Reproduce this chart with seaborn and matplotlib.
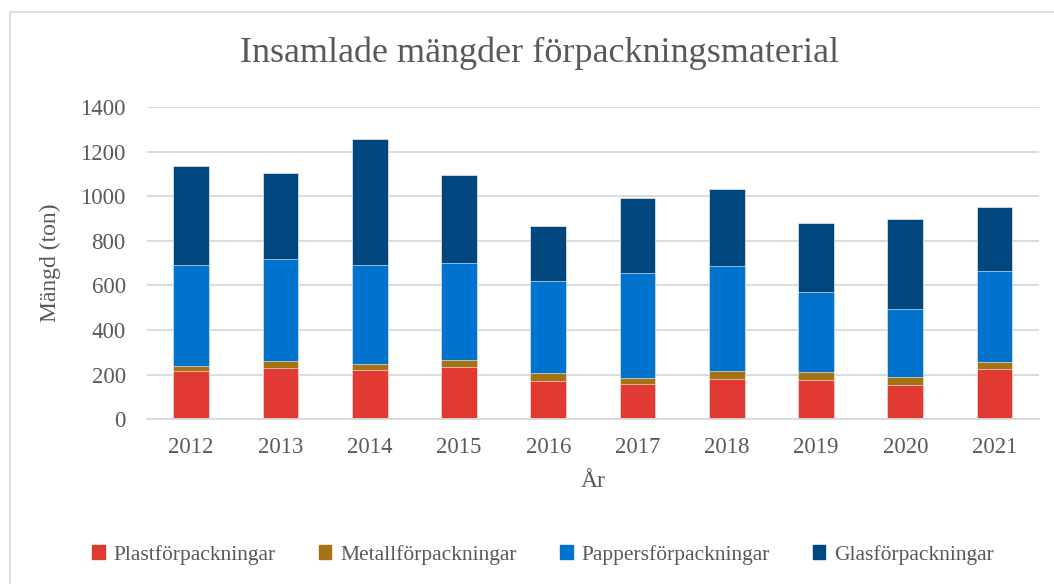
import numpy as np
import pandas as pd
import matplotlib
matplotlib.use("Agg")
import matplotlib.pyplot as plt
import matplotlib.patches as mpatches
import seaborn as sns

# data (ton)
years = ["2012", "2013", "2014", "2015", "2016", "2017", "2018", "2019", "2020", "2021"]
plast = [215, 228, 221, 233, 170, 157, 179, 177, 155, 224]
metall = [22, 33, 25, 33, 37, 27, 37, 35, 34, 33]
papper = [454, 457, 445, 434, 412, 471, 473, 358, 305, 407]
glas = [442, 385, 564, 396, 247, 337, 345, 309, 403, 288]

labels = ["Plastförpackningar", "Metallförpackningar", "Pappersförpackningar", "Glasförpackningar"]
colors = ["#E03A33", "#A57214", "#0073CF", "#00467F"]

sns.set_theme(style="white")
plt.rcParams["font.family"] = ["Liberation Serif", "DejaVu Serif"]
txt = "#595959"

df = pd.DataFrame({"year": years, "plast": plast, "metall": metall,
                   "papper": papper, "glas": glas})
# cumulative heights so the stack can be drawn back to front
cum = df[["plast", "metall", "papper", "glas"]].cumsum(axis=1)

fig = plt.figure(figsize=(10.54, 5.84), dpi=100)
ax = fig.add_axes([0.139, 0.282, 0.847, 0.535])

for col, c in zip(["glas", "papper", "metall", "plast"], colors[::-1]):
    sns.barplot(x=df["year"], y=cum[col], color=c, width=0.4, ax=ax,
                edgecolor="white", linewidth=0.4, saturation=1)

ax.set_ylim(0, 1400)
ax.set_yticks(range(0, 1401, 200))
ax.yaxis.grid(True, color="#D9D9D9", linewidth=1.3)
ax.set_axisbelow(True)
for s in ["top", "right", "left"]:
    ax.spines[s].set_visible(False)
ax.spines["bottom"].set_color("#D9D9D9")
ax.spines["bottom"].set_linewidth(1.3)
ax.tick_params(axis="both", length=0, labelsize=16.5, colors=txt)
ax.tick_params(axis="x", pad=13)
ax.tick_params(axis="y", pad=15)

ax.set_xlabel("År", fontsize=17, color=txt, labelpad=9)
ax.set_ylabel("Mängd (ton)", fontsize=17, color=txt, labelpad=14)
fig.text(0.512, 0.908, "Insamlade mängder förpackningsmaterial", ha="center",
         va="center", fontsize=26, color=txt)

handles = [mpatches.Patch(color=c, label=l) for c, l in zip(colors, labels)]
fig.legend(handles=handles, loc="center", bbox_to_anchor=(0.515, 0.05), ncol=4,
           frameon=False, fontsize=15.5, handlelength=0.6, handleheight=0.6,
           handletextpad=0.4, columnspacing=2.0, labelcolor=txt)

# light chart frame (only top and left edges are inside the picture)
fig.patches.append(mpatches.Rectangle((10 / 1054, -0.1), 1.2, 1.1 - 12 / 584,
                                      transform=fig.transFigure, fill=False,
                                      edgecolor="#D9D9D9", linewidth=1.2))

fig.savefig("out.png", dpi=100)
